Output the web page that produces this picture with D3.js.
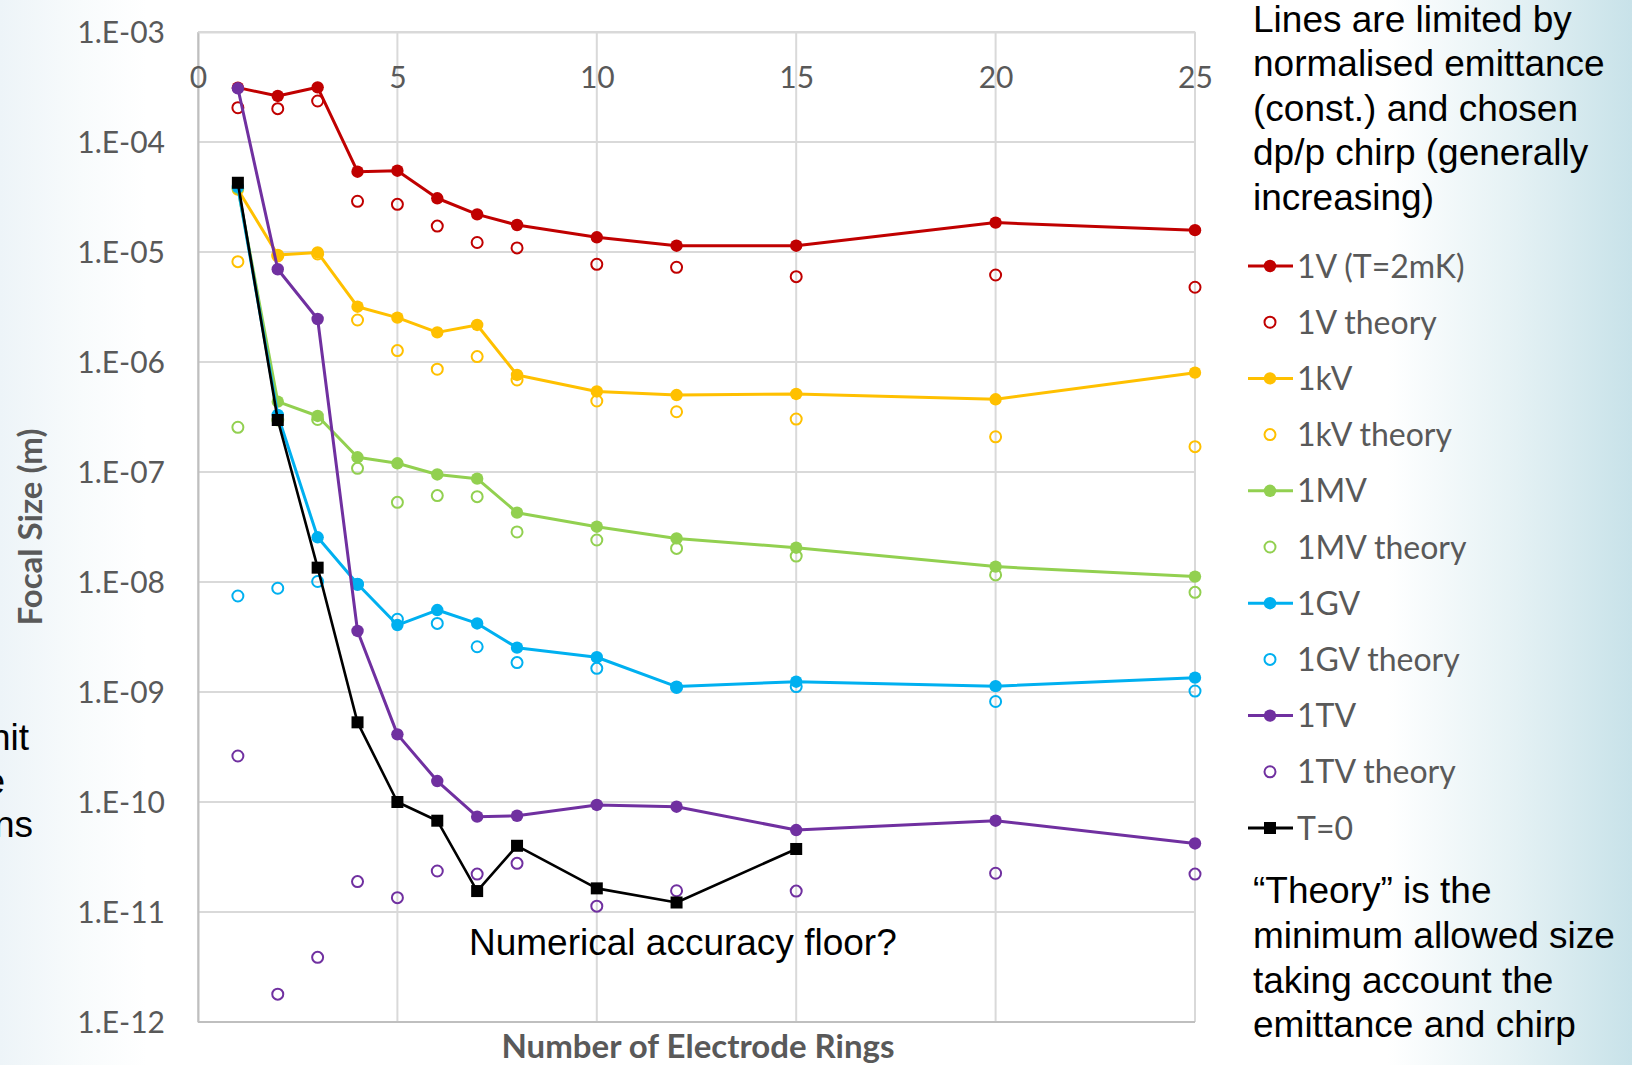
<!DOCTYPE html>
<html>
<head>
<meta charset="utf-8">
<script src="https://cdn.jsdelivr.net/npm/d3@7"></script>
<style>
  html, body { margin: 0; padding: 0; }
  body { width: 1632px; height: 1065px; overflow: hidden; background: #fff; }
  svg text { font-kerning: normal; }
</style>
</head>
<body>
<svg id="chart" width="1632" height="1065"></svg>
<script>
// Number of electrode rings (x values)
const rings = [1, 2, 3, 4, 5, 6, 7, 8, 10, 12, 15, 20, 25];
const ringsT0 = [1, 2, 3, 4, 5, 6, 7, 8, 10, 12, 15];

// Focal size (m), simulated and theoretical minimum
const v1V   = [3.12e-4, 2.62e-4, 3.14e-4, 5.37e-5, 5.48e-5, 3.08e-5, 2.20e-5, 1.76e-5, 1.36e-5, 1.14e-5, 1.14e-5, 1.85e-5, 1.58e-5];
const t1V   = [2.05e-4, 2.01e-4, 2.36e-4, 2.89e-5, 2.71e-5, 1.72e-5, 1.22e-5, 1.09e-5, 7.73e-6, 7.26e-6, 5.97e-6, 6.18e-6, 4.78e-6];
const v1kV  = [3.7e-5, 9.4e-6, 9.9e-6, 3.18e-6, 2.53e-6, 1.86e-6, 2.17e-6, 7.62e-7, 5.4e-7, 5.01e-7, 5.12e-7, 4.58e-7, 8.0e-7];
const t1kV  = [8.17e-6, 9.2e-6, 9.6e-6, 2.41e-6, 1.27e-6, 8.6e-7, 1.12e-6, 6.86e-7, 4.42e-7, 3.53e-7, 3.03e-7, 2.09e-7, 1.70e-7];
const v1MV  = [3.8e-5, 4.36e-7, 3.23e-7, 1.36e-7, 1.20e-7, 9.5e-8, 8.7e-8, 4.27e-8, 3.18e-8, 2.49e-8, 2.05e-8, 1.38e-8, 1.12e-8];
const t1MV  = [2.55e-7, 2.97e-7, 3.0e-7, 1.08e-7, 5.3e-8, 6.1e-8, 5.97e-8, 2.85e-8, 2.41e-8, 2.02e-8, 1.72e-8, 1.16e-8, 8.05e-9];
const v1GV  = [3.9e-5, 3.3e-7, 2.55e-8, 9.6e-9, 4.06e-9, 5.56e-9, 4.2e-9, 2.53e-9, 2.07e-9, 1.12e-9, 1.24e-9, 1.13e-9, 1.35e-9];
const t1GV  = [7.46e-9, 8.77e-9, 1.01e-8, 9.5e-9, 4.58e-9, 4.2e-9, 2.58e-9, 1.85e-9, 1.64e-9, 1.1e-9, 1.12e-9, 8.2e-10, 1.02e-9];
const v1TV  = [3.08e-4, 6.97e-6, 2.46e-6, 3.59e-9, 4.12e-10, 1.55e-10, 7.36e-11, 7.5e-11, 9.4e-11, 9.06e-11, 5.56e-11, 6.76e-11, 4.2e-11];
const t1TV  = [2.62e-10, 1.79e-12, 3.87e-12, 1.89e-11, 1.35e-11, 2.36e-11, 2.21e-11, 2.77e-11, 1.13e-11, 1.56e-11, 1.55e-11, 2.25e-11, 2.21e-11];
const vT0   = [4.26e-5, 2.97e-7, 1.35e-8, 5.3e-10, 1.0e-10, 6.76e-11, 1.55e-11, 4.0e-11, 1.64e-11, 1.22e-11, 3.74e-11];

// Axis ticks
const xTicks = [0, 5, 10, 15, 20, 25];
const yTicks = [1e-3, 1e-4, 1e-5, 1e-6, 1e-7, 1e-8, 1e-9, 1e-10, 1e-11, 1e-12];

const seriesNames  = ["1V (T=2mK)", "1V theory", "1kV", "1kV theory", "1MV", "1MV theory", "1GV", "1GV theory", "1TV", "1TV theory", "T=0"];
const seriesValues = [v1V, t1V, v1kV, t1kV, v1MV, t1MV, v1GV, t1GV, v1TV, t1TV, vT0];
const seriesX      = [rings, rings, rings, rings, rings, rings, rings, rings, rings, rings, ringsT0];
const seriesColors = ["#C00000", "#C00000", "#FFC000", "#FFC000", "#92D050", "#92D050", "#00B0F0", "#00B0F0", "#7030A0", "#7030A0", "#000000"];
const seriesKinds  = ["line", "theory", "line", "theory", "line", "theory", "line", "theory", "line", "theory", "square"];

const noteTop = ["Lines are limited by", "normalised emittance", "(const.) and chosen", "dp/p chirp (generally", "increasing)"];
const noteBottom = ["\u201CTheory\u201D is the", "minimum allowed size", "taking account the", "emittance and chirp"];
const sideFragments = ["nit", "e", "ns"];

const svg = d3.select("#chart");
const W = 1632, H = 1065;
const plot = { left: 198, right: 1195, top: 32, bottom: 1022 };
const labelFont = "Lato, 'Open Sans', sans-serif";
const bodyFont = "'Liberation Sans', Arial, sans-serif";
const axisGrey = "#595959";

// Page background: white centre with soft blue-grey edges
const defs = svg.append("defs");
const grad = defs.append("linearGradient").attr("id", "bg").attr("x1", 0).attr("x2", 1).attr("y1", 0).attr("y2", 0);
[[0, "#edf4f8"], [0.05, "#f8fbfc"], [0.09, "#ffffff"], [0.85, "#ffffff"], [0.93, "#e4f1f4"], [1, "#c8e2e9"]]
  .forEach(([o, c]) => grad.append("stop").attr("offset", o).attr("stop-color", c));
svg.append("rect").attr("width", W).attr("height", H).attr("fill", "url(#bg)");
svg.append("rect").attr("x", plot.left).attr("y", plot.top)
  .attr("width", plot.right - plot.left).attr("height", plot.bottom - plot.top).attr("fill", "#fff");

const x = d3.scaleLinear().domain([0, 25]).range([plot.left, plot.right]);
const y = d3.scaleLog().domain([1e-12, 1e-3]).range([plot.bottom, plot.top]);

// Gridlines
const grid = svg.append("g").attr("stroke", "#d9d9d9").attr("stroke-width", 2).attr("fill", "none");
grid.selectAll("line.v").data(xTicks).join("line").attr("class", "v")
  .attr("x1", d => x(d)).attr("x2", d => x(d)).attr("y1", plot.top).attr("y2", plot.bottom);
grid.selectAll("line.h").data(yTicks).join("line").attr("class", "h")
  .attr("x1", plot.left).attr("x2", plot.right).attr("y1", d => y(d)).attr("y2", d => y(d));

// Y axis (log decades)
const fmtExp = d => "1.E-" + String(Math.round(-Math.log10(d))).padStart(2, "0");
const yAxis = svg.append("g").attr("transform", `translate(${plot.left},0)`)
  .call(d3.axisLeft(y).tickValues(yTicks).tickFormat(fmtExp).tickSize(0).tickPadding(33));
yAxis.select(".domain").attr("stroke", "#bfbfbf").attr("stroke-width", 2);
yAxis.selectAll("text").attr("font-family", labelFont).attr("font-size", 30).attr("fill", axisGrey).attr("dy", "0.35em");

// X axis labels sit just under the top edge
const xAxis = svg.append("g").attr("transform", `translate(0,${plot.top})`)
  .call(d3.axisBottom(x).tickValues(xTicks).tickFormat(d3.format("d")).tickSize(0).tickPadding(35));
xAxis.select(".domain").attr("stroke", "#d9d9d9").attr("stroke-width", 2);
xAxis.selectAll("text").attr("font-family", labelFont).attr("font-size", 30).attr("fill", axisGrey);

// Bottom frame
svg.append("line").attr("x1", plot.left).attr("x2", plot.right).attr("y1", plot.bottom).attr("y2", plot.bottom)
  .attr("stroke", "#bfbfbf").attr("stroke-width", 2);

// Axis titles
svg.append("text").attr("transform", `translate(42,527) rotate(-90)`).attr("text-anchor", "middle")
  .attr("font-family", labelFont).attr("font-weight", 700).attr("font-size", 33).attr("fill", axisGrey)
  .text("Focal Size (m)");
svg.append("text").attr("x", 698).attr("y", 1058).attr("text-anchor", "middle")
  .attr("font-family", labelFont).attr("font-weight", 700).attr("font-size", 33).attr("fill", axisGrey)
  .text("Number of Electrode Rings");

// Series, drawn in legend order
const line = d3.line().x(d => x(d.r)).y(d => y(d.v));
const series = seriesNames.map((name, i) => ({
  name, color: seriesColors[i], kind: seriesKinds[i],
  pts: seriesX[i].map((r, j) => ({ r, v: seriesValues[i][j] }))
}));

const marks = svg.append("g");
series.forEach(s => {
  const g = marks.append("g");
  if (s.kind === "theory") {
    g.selectAll("circle").data(s.pts).join("circle")
      .attr("cx", d => x(d.r)).attr("cy", d => y(d.v)).attr("r", 5.5)
      .attr("fill", "none").attr("stroke", s.color).attr("stroke-width", 2);
  } else {
    g.append("path").datum(s.pts).attr("d", line).attr("fill", "none")
      .attr("stroke", s.color).attr("stroke-width", s.kind === "square" ? 2.6 : 3)
      .attr("stroke-linejoin", "round");
    if (s.kind === "square") {
      g.selectAll("rect").data(s.pts).join("rect")
        .attr("x", d => x(d.r) - 6).attr("y", d => y(d.v) - 6).attr("width", 12).attr("height", 12)
        .attr("fill", s.color);
    } else {
      g.selectAll("circle").data(s.pts).join("circle")
        .attr("cx", d => x(d.r)).attr("cy", d => y(d.v)).attr("r", 6.2).attr("fill", s.color);
    }
  }
});

// Annotation inside the plot
svg.append("text").attr("x", 469).attr("y", 955).attr("font-family", bodyFont).attr("font-size", 37)
  .attr("fill", "#000").text("Numerical accuracy floor?");

// Legend
const legend = svg.append("g");
series.forEach((s, i) => {
  const cy = 266 + i * 56.2;
  const g = legend.append("g");
  if (s.kind === "theory") {
    g.append("circle").attr("cx", 1270).attr("cy", cy).attr("r", 5.5)
      .attr("fill", "none").attr("stroke", s.color).attr("stroke-width", 2);
  } else {
    g.append("line").attr("x1", 1248).attr("x2", 1293).attr("y1", cy).attr("y2", cy)
      .attr("stroke", s.color).attr("stroke-width", 3);
    if (s.kind === "square") {
      g.append("rect").attr("x", 1264).attr("y", cy - 6).attr("width", 12).attr("height", 12).attr("fill", s.color);
    } else {
      g.append("circle").attr("cx", 1270).attr("cy", cy).attr("r", 6.2).attr("fill", s.color);
    }
  }
  g.append("text").attr("x", 1297).attr("y", cy + 11.5).attr("font-family", labelFont)
    .attr("font-size", 32).attr("fill", axisGrey).text(s.name);
});

// Side notes
const notes = svg.append("g").attr("font-family", bodyFont).attr("font-size", 37).attr("fill", "#000");
noteTop.forEach((t, i) => notes.append("text").attr("x", 1253).attr("y", 31.5 + i * 44.6).text(t));
noteBottom.forEach((t, i) => notes.append("text").attr("x", 1253).attr("y", 903 + i * 44.8).text(t));

// Text running in from the left of the page
const fragX = [29, 5, 33];
sideFragments.forEach((t, i) => notes.append("text").attr("x", fragX[i]).attr("y", 750 + i * 43.5)
  .attr("text-anchor", "end").text(t));
</script>
</body>
</html>
